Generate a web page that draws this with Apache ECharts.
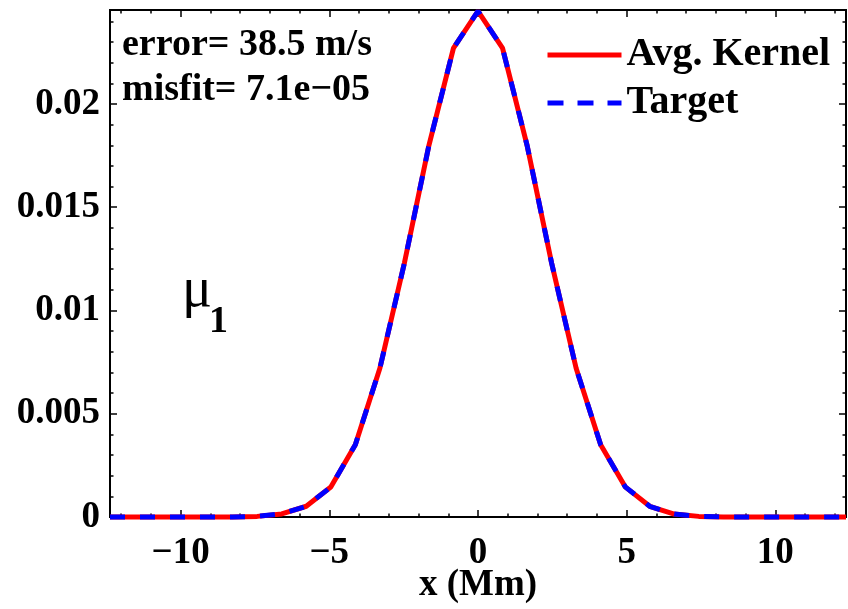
<!DOCTYPE html>
<html>
<head>
<meta charset="utf-8">
<script src="https://cdn.jsdelivr.net/npm/echarts@6/dist/echarts.min.js"></script>
<style>
  html, body { margin: 0; padding: 0; background: #fff; }
  #chart { width: 848px; height: 609px; }
</style>
</head>
<body>
<div id="chart"></div>
<script>
// sample positions (Mm)
const xs = [-12.375, -11.55, -10.725, -9.9, -9.075, -8.25, -7.425, -6.6, -5.775, -4.95, -4.125, -3.3, -2.475, -1.65, -0.825,
  0, 0.825, 1.65, 2.475, 3.3, 4.125, 4.95, 5.775, 6.6, 7.425, 8.25, 9.075, 9.9, 10.725, 11.55, 12.375];
// averaging kernel
const avgKernel = [0, 0, 0, 0, 0.000001, 0.000004, 0.00003, 0.00015, 0.00052, 0.00145, 0.0035, 0.0072, 0.0123, 0.018, 0.0227,
  0.0245,
  0.0227, 0.018, 0.0123, 0.0072, 0.0035, 0.00146, 0.00052, 0.00014, 0.00003, 0.000004, 0.000001, 0, 0, 0, 0];
// target gaussian
const target = [0, 0, 0, 0, 0.000001, 0.000004, 0.00003, 0.00015, 0.00052, 0.00145, 0.0035, 0.0072, 0.0123, 0.018, 0.0227,
  0.0245,
  0.0227, 0.018, 0.0123, 0.0072, 0.0035, 0.00146, 0.00052, 0.00014, 0.00003, 0.000004, 0.000001, 0, 0, 0, 0];
const xTicks = [-10, -5, 0, 5, 10];
const xMinor = [-12, -11, -10, -9, -8, -7, -6, -5, -4, -3, -2, -1, 0, 1, 2, 3, 4, 5, 6, 7, 8, 9, 10, 11, 12];
const yTicks = [0, 0.005, 0.01, 0.015, 0.02];
const yMinor = [];
for (let i = 0; i <= 24; i++) yMinor.push(+(i * 0.001).toFixed(3));

const chart = echarts.init(document.getElementById('chart'));
const font = 'Liberation Serif';
const black = '#000';

function xAxisDef(pos, ticks, len, labels) {
  return {
    type: 'value', position: pos, min: -12.375, max: 12.375,
    axisLine: { show: true, onZero: false, lineStyle: { color: black, width: 2 } },
    axisTick: { show: true, inside: true, length: len, customValues: ticks, lineStyle: { color: black, width: 1.5 } },
    axisLabel: labels ? {
      show: true, customValues: xTicks, margin: 18, color: black,
      fontFamily: font, fontWeight: 'bold', fontSize: 37,
      formatter: v => v < 0 ? '\u2212' + (-v) : String(v)
    } : { show: false },
    splitLine: { show: false }
  };
}
function yAxisDef(pos, ticks, len, labels) {
  return {
    type: 'value', position: pos, min: 0, max: 0.02455,
    axisLine: { show: true, onZero: false, lineStyle: { color: black, width: 2 } },
    axisTick: { show: true, inside: true, length: len, customValues: ticks, lineStyle: { color: black, width: 1.5 } },
    axisLabel: labels ? {
      show: true, customValues: yTicks, margin: 10, color: black,
      fontFamily: font, fontWeight: 'bold', fontSize: 37,
      formatter: v => String(v)
    } : { show: false },
    splitLine: { show: false }
  };
}

const xMain = xAxisDef('bottom', xTicks, 7, true);
xMain.name = 'x (Mm)';
xMain.nameLocation = 'middle';
xMain.nameGap = 50;
xMain.nameMoveOverlap = false;
xMain.nameTextStyle = { color: black, fontFamily: font, fontWeight: 'bold', fontSize: 37 };

const option = {
  animation: false,
  grid: { left: 110, right: 2, top: 10, bottom: 92, containLabel: false, outerBoundsMode: 'none' },
  xAxis: [
    xMain,
    xAxisDef('bottom', xMinor, 3.5, false),
    xAxisDef('top', xTicks, 7, false),
    xAxisDef('top', xMinor, 3.5, false)
  ],
  yAxis: [
    yAxisDef('left', yTicks, 7, true),
    yAxisDef('left', yMinor, 3.5, false),
    yAxisDef('right', yTicks, 7, false),
    yAxisDef('right', yMinor, 3.5, false)
  ],
  legend: {
    orient: 'vertical', left: 540, top: 30, itemWidth: 74, itemHeight: 14, itemGap: 8,
    itemStyle: { opacity: 0 },
    textStyle: { color: black, fontFamily: font, fontWeight: 'bold', fontSize: 40 },
    data: [
      { name: 'Avg. Kernel', itemStyle: { opacity: 0 }, lineStyle: { color: '#ff0000', width: 5, type: 'solid' } },
      { name: 'Target', itemStyle: { opacity: 0 }, lineStyle: { color: '#0000ff', width: 5, type: [16, 14] } }
    ]
  },
  graphic: [
    { type: 'text', left: 122, top: 26, style: { text: 'error= 38.5 m/s', fill: black, font: 'bold 38px "Liberation Serif"' } },
    { type: 'text', left: 122, top: 71, style: { text: 'misfit= 7.1e\u221205', fill: black, font: 'bold 38px "Liberation Serif"' } },
    { type: 'text', left: 182, top: 263, style: { text: '\u03bc', fill: black, font: '56px "Liberation Serif"' } },
    { type: 'text', left: 209, top: 303, style: { text: '1', fill: black, font: 'bold 38px "Liberation Serif"' } }
  ],
  series: [
    {
      name: 'Avg. Kernel', type: 'line', xAxisIndex: 0, yAxisIndex: 0,
      symbol: 'none', showSymbol: false, clip: false, z: 2,
      lineStyle: { color: '#ff0000', width: 5, type: 'solid' },
      itemStyle: { color: '#ff0000' },
      data: xs.map((x, i) => [x, avgKernel[i]])
    },
    {
      name: 'Target', type: 'line', xAxisIndex: 0, yAxisIndex: 0,
      symbol: 'none', showSymbol: false, clip: false, z: 3,
      lineStyle: { color: '#0000ff', width: 5, type: [15, 15] },
      itemStyle: { color: '#0000ff' },
      data: xs.map((x, i) => [x, target[i]])
    }
  ]
};
chart.setOption(option);
</script>
</body>
</html>
